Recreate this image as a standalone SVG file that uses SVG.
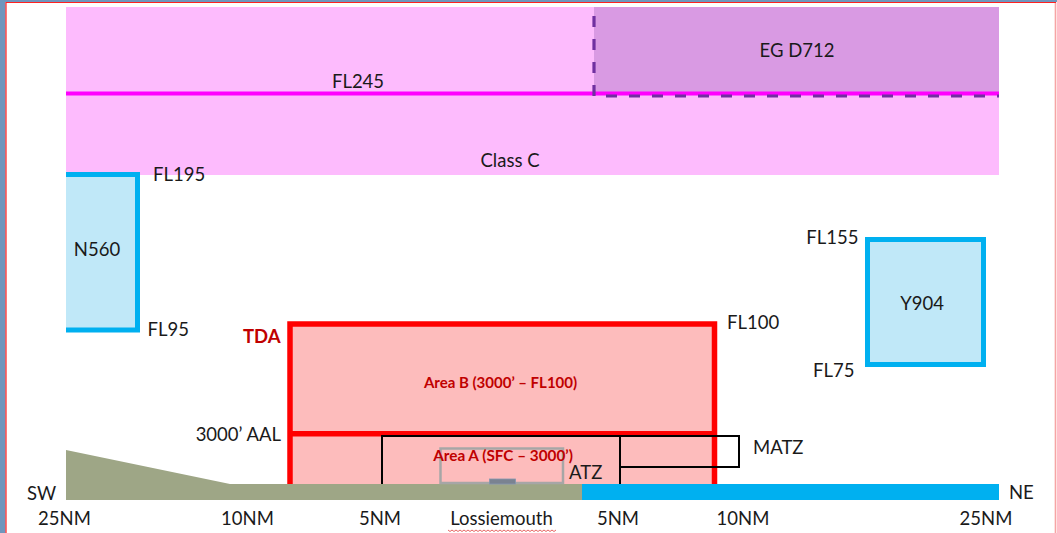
<svg xmlns="http://www.w3.org/2000/svg" width="1057" height="533" viewBox="0 0 1057 533">
<style>
.lbl{font-family:Lato,"Liberation Sans",sans-serif;font-size:18.5px;fill:#1a1a1a}
.red{font-family:Lato,"Liberation Sans",sans-serif;font-weight:bold;fill:#c00000}
.mid{text-anchor:middle}
.end{text-anchor:end}
</style>
<rect x="0" y="0" width="1057" height="533" fill="#ffffff"/>
<g id="frame">
<rect x="0" y="0" width="1057" height="2" fill="#6f96bd"/>
<rect x="0" y="0" width="5.5" height="533" fill="#6f96bd"/>
<path d="M6,533 V2.5 H1055.5 V533" fill="none" stroke="#ff2020" stroke-width="1.2"/>
<path d="M1055.5,3 V533" fill="none" stroke="#f6a5a5" stroke-width="1.2"/>
</g>
<g id="class-c">
<rect x="66" y="7" width="933" height="168" fill="#fdbbfd"/>
<text class="lbl mid" x="510" y="167">Class C</text>
</g>
<g id="eg-d712">
<rect x="594" y="7" width="405" height="88" fill="#d99ae3"/>
<text class="lbl mid" x="797" y="57">EG D712</text>
</g>
<g id="fl245">
<line x1="66" y1="93.5" x2="999" y2="93.5" stroke="#ff00ff" stroke-width="4"/>
<text class="lbl mid" x="358" y="87.5">FL245</text>
</g>
<g id="eg-d712-border">
<path d="M594,16 V96 H999" fill="none" stroke="#7030a0" stroke-width="3.2" stroke-dasharray="11 12"/>
</g>
<g id="n560">
<rect x="66" y="174.5" width="71.5" height="155.5" fill="#c0e8f8"/>
<path d="M66,174.5 H137.5 V330 H66" fill="none" stroke="#00b0f0" stroke-width="5"/>
<text class="lbl mid" x="97" y="255.5">N560</text>
<text class="lbl" x="153" y="181">FL195</text>
<text class="lbl" x="147.5" y="336">FL95</text>
</g>
<g id="y904">
<rect x="867.5" y="239.5" width="116" height="125" fill="#c0e8f8" stroke="#00b0f0" stroke-width="5"/>
<text class="lbl mid" x="922" y="309.5">Y904</text>
<text class="lbl end" x="858.5" y="244">FL155</text>
<text class="lbl end" x="854.5" y="376.5">FL75</text>
</g>
<g id="tda">
<rect x="290" y="324" width="424.5" height="160" fill="#fdbcbc"/>
<path d="M290,484 V324 H714.5 V484 M290,433.7 H714.5" fill="none" stroke="#ff0000" stroke-width="5.5"/>
<text class="red end" x="280.5" y="343" font-size="18.5">TDA</text>
<text class="lbl" x="727" y="328.5">FL100</text>
<text class="lbl end" x="281" y="440.5">3000’ AAL</text>
<text class="red mid" x="500.5" y="388.3" font-size="15">Area B (3000’ – FL100)</text>
</g>
<g id="ground">
<polygon points="66,450 230,484 582,484 582,500 66,500" fill="#9ea686"/>
<rect x="582" y="484" width="417" height="16" fill="#00b0f0"/>
<text class="lbl" x="27" y="500">SW</text>
<text class="lbl" x="1009" y="498.5">NE</text>
</g>
<g id="atz">
<path d="M382,484 V436 H620 V484" fill="none" stroke="#000000" stroke-width="2"/>
<text class="lbl" x="569" y="478.5">ATZ</text>
</g>
<g id="matz">
<rect x="620" y="436" width="119" height="31" fill="none" stroke="#000000" stroke-width="2"/>
<text class="lbl" x="753" y="453.5">MATZ</text>
</g>
<g id="area-a">
<rect x="440.5" y="448.5" width="122.5" height="34.5" fill="none" stroke="#a6a6a6" stroke-width="2.5"/>
<rect x="489.5" y="479" width="26" height="5" fill="#7a8291" stroke="#8497b0" stroke-width="0.8"/>
<text class="red mid" x="503" y="461" font-size="15.3">Area A (SFC – 3000’)</text>
</g>
<g id="scale">
<text class="lbl mid" x="64.5" y="525">25NM</text>
<text class="lbl mid" x="247.5" y="525">10NM</text>
<text class="lbl mid" x="380" y="525">5NM</text>
<text class="lbl mid" x="501.5" y="525">Lossiemouth</text>
<polyline points="448,530 450,531.5 452,530 454,531.5 456,530 458,531.5 460,530 462,531.5 464,530 466,531.5 468,530 470,531.5 472,530 474,531.5 476,530 478,531.5 480,530 482,531.5 484,530 486,531.5 488,530 490,531.5 492,530 494,531.5 496,530 498,531.5 500,530 502,531.5 504,530 506,531.5 508,530 510,531.5 512,530 514,531.5 516,530 518,531.5 520,530 522,531.5 524,530 526,531.5 528,530 530,531.5 532,530 534,531.5 536,530 538,531.5 540,530 542,531.5 544,530 546,531.5 548,530 550,531.5 552,530 554,531.5 556,530" fill="none" stroke="#e03c3c" stroke-width="0.8"/>
<text class="lbl mid" x="618" y="525">5NM</text>
<text class="lbl mid" x="743" y="525">10NM</text>
<text class="lbl mid" x="986" y="525">25NM</text>
</g>
</svg>
